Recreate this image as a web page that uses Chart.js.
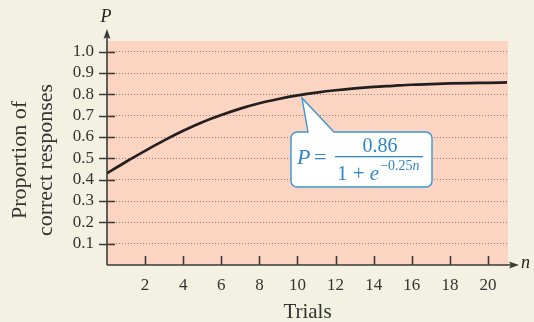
<!DOCTYPE html>
<html>
<head>
<meta charset="utf-8">
<script src="https://cdn.jsdelivr.net/npm/chart.js@4/dist/chart.umd.min.js"></script>
<style>
  html, body { margin: 0; padding: 0; background: #F3F1E1; }
  #wrap { width: 534px; height: 322px; }
</style>
</head>
<body>
<div id="wrap"><canvas id="c" width="534" height="322"></canvas></div>
<script>
// Data
const trials = [0,1,2,3,4,5,6,7,8,9,10,11,12,13,14,15,16,17,18,19,20,21];
const proportion = [0.430,0.484,0.535,0.584,0.629,0.669,0.703,0.733,0.758,0.778,0.795,0.808,0.819,0.828,0.835,0.840,0.845,0.848,0.851,0.853,0.854,0.856];
const yTickValues = [0.1,0.2,0.3,0.4,0.5,0.6,0.7,0.8,0.9,1.0];
const xTickValues = [2,4,6,8,10,12,14,16,18,20];
const xTitle = 'Trials';
const yTitle = ['Proportion of', 'correct responses'];

const FONT = '"Liberation Serif", "Times New Roman", serif';
const AXIS = '#3a3a3a';
const BLUE = '#2E86C8';

const decor = {
  id: 'decor',
  beforeDraw(chart) {
    const {ctx, chartArea: a} = chart;
    ctx.save();
    ctx.fillStyle = '#F3F1E1';
    ctx.fillRect(0, 0, chart.width, chart.height);
    ctx.fillStyle = '#FCD4C2';
    ctx.fillRect(a.left, a.top, a.right - a.left, a.bottom - a.top);
    ctx.restore();
  },
  afterDraw(chart) {
    const {ctx, chartArea: a, scales} = chart;
    const xs = scales.x, ys = scales.y;
    ctx.save();
    // axes
    ctx.strokeStyle = AXIS; ctx.lineWidth = 1.6;
    ctx.beginPath();
    ctx.moveTo(a.left, a.bottom); ctx.lineTo(a.left, a.top - 6);
    ctx.moveTo(a.left, a.bottom); ctx.lineTo(a.right + 6, a.bottom);
    ctx.stroke();
    // arrow heads
    ctx.fillStyle = AXIS;
    ctx.beginPath();
    ctx.moveTo(a.left, a.top - 12); ctx.lineTo(a.left - 3.5, a.top - 2); ctx.lineTo(a.left, a.top - 4); ctx.lineTo(a.left + 3.5, a.top - 2); ctx.closePath(); ctx.fill();
    ctx.beginPath();
    ctx.moveTo(a.right + 11, a.bottom); ctx.lineTo(a.right + 1, a.bottom - 3.5); ctx.lineTo(a.right + 3, a.bottom); ctx.lineTo(a.right + 1, a.bottom + 3.5); ctx.closePath(); ctx.fill();
    // tick marks
    ctx.lineWidth = 1.6;
    ctx.beginPath();
    ys.ticks.forEach(t => {
      const y = Math.round(ys.getPixelForValue(t.value)) + 0.5;
      ctx.moveTo(a.left - 8, y); ctx.lineTo(a.left + 8, y);
    });
    xs.ticks.forEach(t => {
      const x = Math.round(xs.getPixelForValue(t.value)) + 0.5;
      ctx.moveTo(x, a.bottom); ctx.lineTo(x, a.bottom - 9);
    });
    ctx.stroke();
    // axis variable names
    ctx.fillStyle = '#222';
    ctx.font = 'italic 18px ' + FONT;
    ctx.textAlign = 'center'; ctx.textBaseline = 'middle';
    ctx.fillText('P', a.left - 1, 17);
    ctx.textAlign = 'left';
    ctx.fillText('n', a.right + 13, a.bottom - 2);
    // axis titles
    ctx.fillStyle = '#333';
    ctx.font = '21px ' + FONT;
    ctx.textAlign = 'center';
    ctx.textBaseline = 'alphabetic';
    ctx.fillText(xTitle, (a.left + a.right) / 2, 318);
    ctx.save();
    ctx.font = '22px ' + FONT;
    ctx.translate(26, 160);
    ctx.rotate(-Math.PI / 2);
    ctx.fillText(yTitle[0], 0, 0);
    ctx.fillText(yTitle[1], 0, 26);
    ctx.restore();

    // callout
    const bx = 291, by = 132, bw = 141, bh = 55, r = 6;
    const tipX = 302, tipY = 98;
    ctx.fillStyle = '#FFFFFF';
    ctx.strokeStyle = '#3D95D2';
    ctx.lineWidth = 1.4;
    ctx.beginPath();
    ctx.moveTo(bx + r, by);
    ctx.lineTo(308, by);
    ctx.lineTo(tipX, tipY);
    ctx.lineTo(334, by);
    ctx.lineTo(bx + bw - r, by);
    ctx.arcTo(bx + bw, by, bx + bw, by + r, r);
    ctx.lineTo(bx + bw, by + bh - r);
    ctx.arcTo(bx + bw, by + bh, bx + bw - r, by + bh, r);
    ctx.lineTo(bx + r, by + bh);
    ctx.arcTo(bx, by + bh, bx, by + bh - r, r);
    ctx.lineTo(bx, by + r);
    ctx.arcTo(bx, by, bx + r, by, r);
    ctx.closePath();
    ctx.fill(); ctx.stroke();

    ctx.fillStyle = BLUE;
    ctx.textBaseline = 'alphabetic';
    ctx.textAlign = 'left';
    ctx.font = 'italic 22px ' + FONT;
    ctx.fillText('P', 297, 164);
    ctx.font = '22px ' + FONT;
    ctx.fillText('=', 314, 164);
    ctx.textAlign = 'center';
    ctx.font = '20px ' + FONT;
    ctx.fillText('0.86', 380, 152);
    ctx.fillRect(335, 156, 88, 1.3);
    ctx.textAlign = 'left';
    ctx.font = '21px ' + FONT;
    ctx.fillText('1 + ', 337, 180);
    const w1 = ctx.measureText('1 + ').width;
    ctx.font = 'italic 21px ' + FONT;
    ctx.fillText('e', 337 + w1, 180);
    const w2 = ctx.measureText('e').width;
    ctx.font = '14px ' + FONT;
    ctx.fillText('\u22120.25', 337 + w1 + w2 + 1, 170);
    const w3 = ctx.measureText('\u22120.25').width;
    ctx.font = 'italic 14px ' + FONT;
    ctx.fillText('n', 337 + w1 + w2 + 1 + w3, 170);
    ctx.restore();
  }
};

new Chart(document.getElementById('c'), {
  type: 'line',
  data: {
    datasets: [{
      data: trials.map((n, i) => ({x: n, y: proportion[i]})),
      borderColor: '#231F20',
      borderWidth: 2.7,
      pointRadius: 0,
      cubicInterpolationMode: 'monotone',
      fill: false
    }]
  },
  options: {
    responsive: false,
    animation: false,
    devicePixelRatio: 1,
    layout: { padding: { left: 0, top: 41, right: 26, bottom: 0 } },
    plugins: { legend: { display: false }, tooltip: { enabled: false } },
    scales: {
      x: {
        type: 'linear', min: 0, max: 21.05,
        border: { display: false },
        grid: { display: false, drawTicks: false },
        afterBuildTicks: s => { s.ticks = xTickValues.map(v => ({value: v})); },
        afterFit: s => { s.height = 57; },
        ticks: {
          padding: 10,
          maxRotation: 0,
          color: '#333',
          font: { family: FONT, size: 17 },
          callback: v => String(v)
        }
      },
      y: {
        type: 'linear', min: 0, max: 1.05,
        border: { display: false, dash: [1, 2] },
        grid: {
          drawTicks: false,
          color: 'rgba(130,100,90,0.8)',
          lineWidth: 1
        },
        afterBuildTicks: s => { s.ticks = yTickValues.map(v => ({value: v})); },
        afterFit: s => { s.width = 107; },
        ticks: {
          padding: 13,
          color: '#333',
          font: { family: FONT, size: 17 },
          callback: v => Number(v).toFixed(1)
        }
      }
    }
  },
  plugins: [decor]
});
</script>
</body>
</html>
